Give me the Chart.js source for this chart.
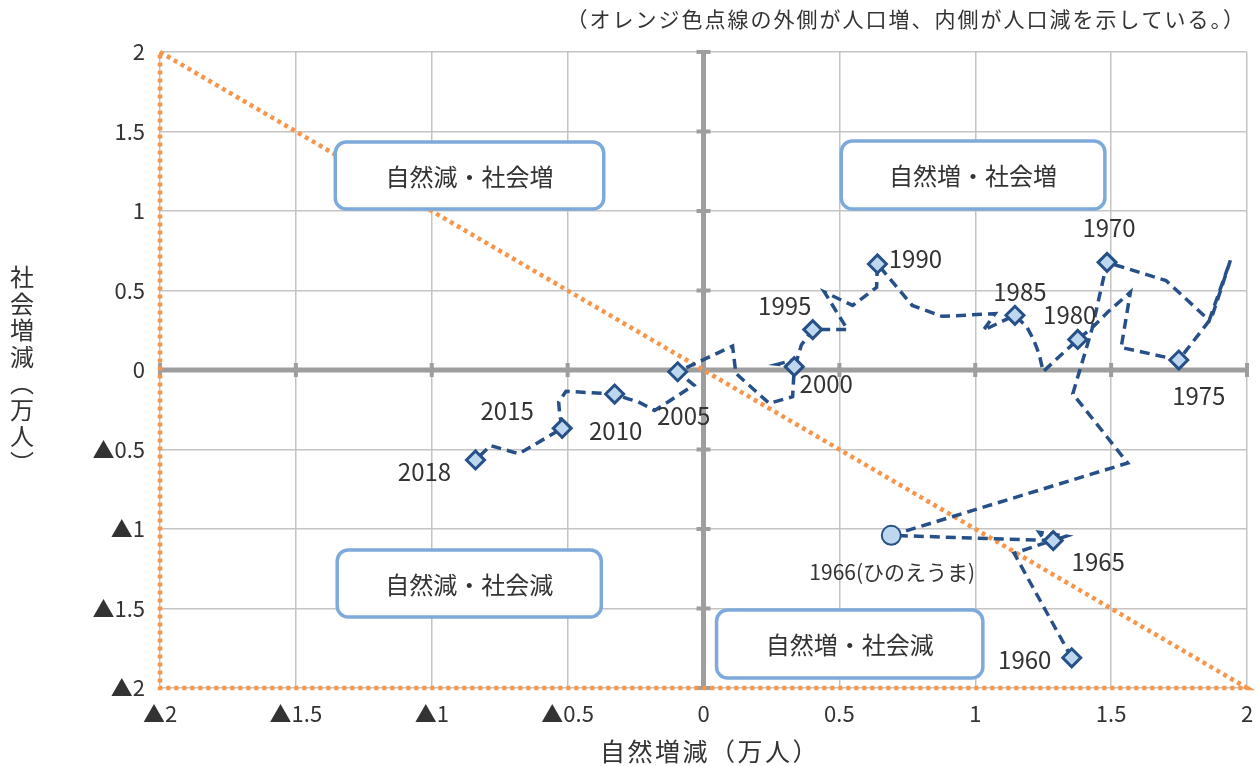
<!DOCTYPE html>
<html lang="ja">
<head>
<meta charset="utf-8">
<script src="https://cdn.jsdelivr.net/npm/chart.js@4.4.1/dist/chart.umd.min.js"></script>
<style>
  html, body { margin: 0; padding: 0; background: #fff; }
  #wrap { width: 1259px; height: 766px; }
</style>
</head>
<body>
<div id="wrap"><canvas id="chart"></canvas></div>
<script>
// 自然増減 (x) と 社会増減 (y)、単位：万人
const years = [
  1960, 1961, 1962, 1963, 1964, 1965, 1966, 1967, 1968, 1969,
  1970, 1971, 1972, 1973, 1974, 1975, 1976, 1977, 1978, 1979,
  1980, 1981, 1982, 1983, 1984, 1985, 1986, 1987, 1988, 1989,
  1990, 1991, 1992, 1993, 1994, 1995, 1996, 1997, 1998, 1999,
  2000, 2001, 2002, 2003, 2004, 2005, 2006, 2007, 2008, 2009,
  2010, 2011, 2012, 2013, 2014, 2015, 2016, 2017, 2018
];
const naturalChange = [
  1.355, 1.143, 1.26, 1.235, 1.335, 1.287, 0.691, 1.561, 1.359, 1.43,
  1.485, 1.702, 1.861, 1.939, 1.87, 1.749, 1.537, 1.571, 1.488, 1.433,
  1.377, 1.25, 1.235, 1.215, 1.19, 1.146, 1.03, 1.073, 0.878, 0.768,
  0.64, 0.637, 0.549, 0.445, 0.53, 0.402, 0.36, 0.345, 0.273, 0.31,
  0.334, 0.328, 0.242, 0.119, 0.107, -0.095, -0.035, -0.18, -0.24, -0.28,
  -0.327, -0.506, -0.533, -0.53, -0.525, -0.52, -0.679, -0.784, -0.839
];
const socialChange = [
  -1.81, -1.153, -1.085, -1.02, -1.045, -1.073, -1.04, -0.585, -0.15, 0.26,
  0.677, 0.5625, 0.3125, 0.69, 0.33, 0.0625, 0.142, 0.49, 0.365, 0.27,
  0.192, -0.01, 0.1, 0.19, 0.27, 0.344, 0.25, 0.354, 0.3375, 0.406,
  0.667, 0.52, 0.406, 0.49, 0.254, 0.254, 0.157, 0.07, 0.036, 0.03,
  0.021, -0.168, -0.21, -0.021, 0.151, -0.011, -0.095, -0.255, -0.2, -0.18,
  -0.151, -0.134, -0.203, -0.26, -0.32, -0.367, -0.527, -0.475, -0.566
];
const markedYears = [1960, 1965, 1970, 1975, 1980, 1985, 1990, 1995, 2000, 2005, 2010, 2015, 2018];
const specialYear = 1966;
const specialYearText = '1966(ひのえうま)';

// 人口増減の境界（オレンジ点線）
const boundaryX = [-2, 2, -2, -2];
const boundaryY = [2, -2, -2, 2];

const axisTicks = [-2, -1.5, -1, -0.5, 0, 0.5, 1, 1.5, 2];
const quadrantLabels = ['自然減・社会増', '自然増・社会増', '自然減・社会減', '自然増・社会減'];

const xTitle = '自然増減（万人）';
const yTitle = '社会増減（万人）';
const note = '（オレンジ色点線の外側が人口増、内側が人口減を示している。）';

const FONT = '"Noto Sans CJK JP", "Noto Sans", sans-serif';
const TEXT = '#333333';
const BLUE = '#265087';
const ORANGE = '#f7964a';

const fmt = v => (v < 0 ? '▲' + (-v) : String(v));

// ラベル位置（マーカーからのずれ, px）
const labelOffsets = {
  1960: [-47, 2], 1965: [45, 21], 1966: [1, 37], 1970: [2, -34], 1975: [20, 36],
  1980: [-8, -25], 1985: [5, -23], 1990: [38, -5], 1995: [-28, -24], 2000: [32, 17],
  2005: [6, 44], 2010: [1, 37], 2015: [-55, -17], 2018: [-51, 12]
};
// 象限ボックス（データ座標）
const boxRects = [
  [-1.355, 1.434, -0.367, 1.013],
  [0.507, 1.44, 1.477, 1.013],
  [-1.348, -1.132, -0.376, -1.553],
  [0.048, -1.509, 1.028, -1.937]
];

const decor = {
  id: 'decor',
  beforeDatasetsDraw(chart) {
    const { ctx, chartArea: a, scales: { x, y } } = chart;
    const x0 = x.getPixelForValue(0), y0 = y.getPixelForValue(0);
    ctx.save();
    ctx.strokeStyle = '#9e9e9e';
    ctx.lineWidth = 5;
    ctx.beginPath();
    ctx.moveTo(a.left, y0); ctx.lineTo(a.right, y0);
    ctx.moveTo(x0, a.top); ctx.lineTo(x0, a.bottom);
    ctx.stroke();
    ctx.lineWidth = 4;
    ctx.beginPath();
    axisTicks.forEach(v => {
      const px = x.getPixelForValue(v);
      ctx.moveTo(px, y0 - 7); ctx.lineTo(px, y0 + 7);
      const py = y.getPixelForValue(v);
      ctx.moveTo(x0 - 7, py); ctx.lineTo(x0 + 7, py);
    });
    ctx.stroke();
    ctx.restore();
  },
  afterDatasetsDraw(chart) {
    const { ctx, scales: { x, y } } = chart;
    ctx.save();
    // quadrant boxes
    boxRects.forEach((r, i) => {
      const l = x.getPixelForValue(r[0]), t = y.getPixelForValue(r[1]);
      const rr = x.getPixelForValue(r[2]), b = y.getPixelForValue(r[3]);
      ctx.beginPath();
      ctx.roundRect(l, t, rr - l, b - t, 11);
      ctx.fillStyle = '#fff';
      ctx.fill();
      ctx.lineWidth = 3.5;
      ctx.strokeStyle = '#7eaadb';
      ctx.stroke();
      ctx.fillStyle = TEXT;
      ctx.font = '24px ' + FONT;
      ctx.textAlign = 'center';
      ctx.textBaseline = 'middle';
      ctx.fillText(quadrantLabels[i], (l + rr) / 2, (t + b) / 2 + 1);
    });
    // year labels
    ctx.fillStyle = TEXT;
    ctx.textAlign = 'center';
    ctx.textBaseline = 'middle';
    years.forEach((yr, i) => {
      const off = labelOffsets[yr];
      if (!off) return;
      const px = x.getPixelForValue(naturalChange[i]);
      const py = y.getPixelForValue(socialChange[i]);
      ctx.font = (yr === specialYear ? '21px ' : '24px ') + FONT;
      ctx.fillText(yr === specialYear ? specialYearText : String(yr), px + off[0], py + off[1]);
    });
    ctx.restore();
  },
  afterDraw(chart) {
    const { ctx } = chart;
    ctx.save();
    ctx.fillStyle = TEXT;
    ctx.textBaseline = 'middle';
    ctx.font = '21px ' + FONT;
    ctx.letterSpacing = '2px';
    ctx.textAlign = 'right';
    ctx.fillText(note, 1246, 19);
    ctx.font = '25px ' + FONT;
    ctx.letterSpacing = '2.5px';
    ctx.textAlign = 'center';
    ctx.fillText(xTitle, 710, 751);
    ctx.letterSpacing = '0px';
    ctx.font = '24px ' + FONT;
    const chars = ['社', '会', '増', '減', '︵', '万', '人', '︶'];
    chars.forEach((c, i) => ctx.fillText(c, 22, 277 + i * 26.5));
    ctx.restore();
  }
};

new Chart(document.getElementById('chart'), {
  type: 'scatter',
  data: {
    datasets: [
      {
        label: '推移',
        data: years.map((yr, i) => ({ x: naturalChange[i], y: socialChange[i] })),
        showLine: true,
        borderColor: BLUE,
        borderWidth: 3.5,
        borderDash: [10, 6],
        pointStyle: c => (years[c.dataIndex] === specialYear ? 'circle' : 'rectRot'),
        pointRadius: c => {
          const yr = years[c.dataIndex];
          if (yr === specialYear) return 9.5;
          return markedYears.includes(yr) ? 9 : 0;
        },
        pointHoverRadius: 0,
        pointBackgroundColor: '#bdd7ee',
        pointBorderColor: BLUE,
        pointBorderWidth: c => (years[c.dataIndex] === specialYear ? 2 : 3)
      },
      {
        label: '境界',
        data: boundaryX.map((v, i) => ({ x: v, y: boundaryY[i] })),
        showLine: true,
        borderColor: ORANGE,
        borderWidth: 4.5,
        borderDash: [4, 4],
        pointRadius: 0,
        clip: false
      }
    ]
  },
  options: {
    responsive: true,
    maintainAspectRatio: false,
    animation: false,
    layout: { padding: { top: 52, right: 7, left: 0, bottom: 0 } },
    plugins: { legend: { display: false }, tooltip: { enabled: false } },
    scales: {
      x: {
        type: 'linear', min: -2, max: 2,
        afterBuildTicks: s => { s.ticks = axisTicks.map(v => ({ value: v })); },
        afterFit: s => { s.height = 78; s.paddingLeft = 0; s.paddingRight = 0; },
        ticks: { callback: fmt, font: { family: FONT, size: 22 }, color: TEXT, padding: 12, maxRotation: 0, autoSkip: false },
        grid: { color: '#c4c4c4', lineWidth: 1.5, drawTicks: false },
        border: { display: false }
      },
      y: {
        type: 'linear', min: -2, max: 2,
        afterBuildTicks: s => { s.ticks = axisTicks.map(v => ({ value: v })); },
        afterFit: s => { s.width = 160; s.paddingTop = 0; s.paddingBottom = 0; },
        ticks: { callback: fmt, font: { family: FONT, size: 22 }, color: TEXT, padding: 15, autoSkip: false },
        grid: { color: '#c4c4c4', lineWidth: 1.5, drawTicks: false },
        border: { display: false }
      }
    }
  },
  plugins: [decor]
});
</script>
</body>
</html>
